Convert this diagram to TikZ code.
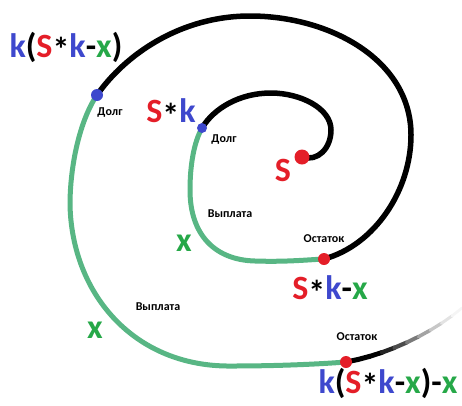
\documentclass[tikz,border=0pt]{standalone}
\usepackage{fontspec}
\setmainfont{Carlito}

\definecolor{sred}{RGB}{228,30,40}
\definecolor{kblue}{RGB}{62,72,205}
\definecolor{xgreen}{RGB}{38,168,72}
\definecolor{pathgreen}{RGB}{88,182,132}

\pgfdeclarelayer{bg}
\pgfsetlayers{bg,main}

\newcommand{\cS}{\textcolor{sred}{S}}
\newcommand{\ck}{\textcolor{kblue}{k}}
\newcommand{\cx}{\textcolor{xgreen}{x}}
\newcommand{\cast}{\raisebox{-0.14em}{*}}

\tikzset{
  big/.style={font=\fontsize{34}{36}\selectfont\bfseries, inner sep=0pt},
  small/.style={font=\fontsize{12}{13}\selectfont\bfseries, inner sep=0pt},
  dot/.style={circle, inner sep=0pt, minimum size=12pt},
  reddot/.style={dot, fill=sred},
  bluedot/.style={dot, fill=kblue},
  debtline/.style={line width=5.5pt, line cap=round},
  payline/.style={line width=5pt, pathgreen}
}

\begin{document}
\begin{tikzpicture}[x=1pt,y=-1pt]
  \useasboundingbox (0,0) rectangle (462,405);

  % points on the spiral
  \node[reddot, minimum size=15pt] (start) at (302,157) {};
  \node[bluedot, minimum size=10pt] (debt1) at (202,128) {};
  \node[reddot] (rest1) at (324,259) {};
  \node[bluedot] (debt2) at (97,95) {};
  \node[reddot] (rest2) at (346,362) {};
  \coordinate (tailend) at (462,308);

  \begin{pgfonlayer}{bg}
    \draw[debtline] (start.center)
      .. controls (318,162) and (331,148) .. (331,130)
      .. controls (331,108) and (300,93) .. (271,93)
      .. controls (240,93) and (214,108) .. (debt1.center);
    \draw[payline] (debt1.center)
      .. controls (194,142) and (190,165) .. (190,190)
      .. controls (190,235) and (215,260) .. (255,261)
      .. controls (285,262) and (305,260) .. (rest1.center);
    \draw[debtline] (rest1.center)
      .. controls (375,245) and (411,190) .. (411,135)
      .. controls (411,60) and (330,16) .. (250,16)
      .. controls (180,16) and (125,55) .. (debt2.center);
    \draw[payline] (debt2.center)
      .. controls (80,120) and (70,165) .. (70,205)
      .. controls (72,295) and (135,367) .. (231,366)
      .. controls (280,366) and (320,364) .. (rest2.center);
    % fading tail
    \path (rest2.center) .. controls (385,355) and (430,335) .. (tailend)
      \foreach \p in {0,...,10} { coordinate[pos=\p/10] (t\p) };
    \foreach \i/\j/\g/\w in {0/1/100/5,1/2/100/5,2/3/100/4.8,3/4/86/4.5,4/5/70/4.2,
                             5/6/52/3.9,6/7/36/3.6,7/8/22/3.3,8/9/11/3,9/10/4/2.7}
      \draw[line width=\w pt, line cap=round, black!\g] (t\i) -- (t\j);
  \end{pgfonlayer}

  % labels
  \node[big] (lbl2) at (66,47) {\ck(\cS\cast\ck-\cx)};
  \node[big] (lbl1) at (171,113) {\cS\cast\ck};
  \node[big] (lbl0) at (283,170) {\cS};
  \node[big] (lbl3) at (330,290) {\cS\cast\ck-\cx};
  \node[big] (lbl4) at (388,383) {\ck(\cS\cast\ck-\cx)-\cx};
  \node[big] (pay1) at (184,243) {\cx};
  \node[big] (pay2) at (95,330) {\cx};

  \node[small] (d1) at (224,140) {Долг};
  \node[small] (d2) at (110,113) {Долг};
  \node[small] (v1) at (230,214) {Выплата};
  \node[small] (v2) at (158,307) {Выплата};
  \node[small] (o1) at (324,239) {Остаток};
  \node[small] (o2) at (357,337) {Остаток};
\end{tikzpicture}
\end{document}
